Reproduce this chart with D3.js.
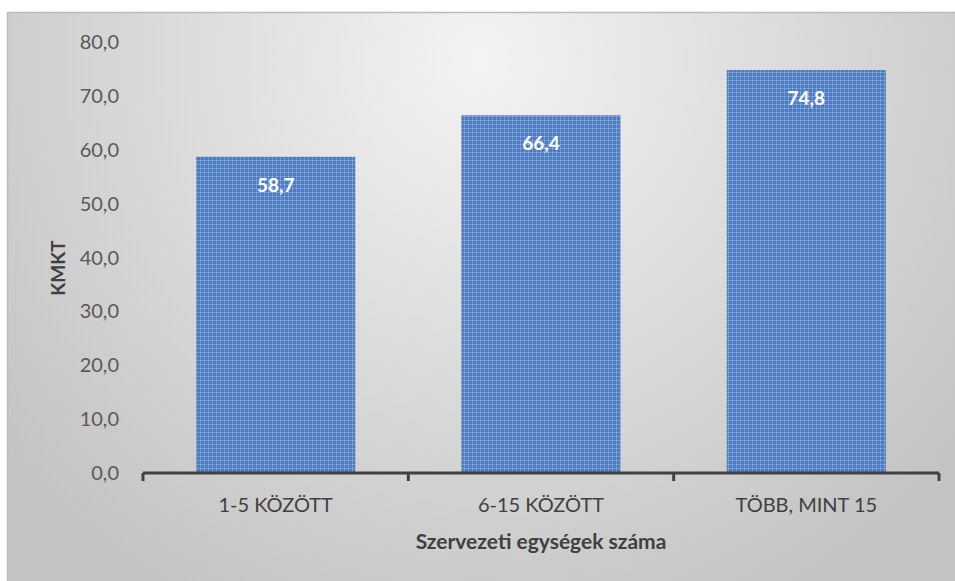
<!doctype html>
<html>
<head>
<meta charset="utf-8">
<script src="https://cdnjs.cloudflare.com/ajax/libs/d3/7.8.5/d3.min.js"></script>
<style>
  body { margin: 0; background: #fff; }
  svg { display: block; font-family: Lato, "Open Sans", sans-serif; }
</style>
</head>
<body>
<svg id="chart" width="955" height="581"></svg>
<script>
// data
var categories = ["1-5 KÖZÖTT", "6-15 KÖZÖTT", "TÖBB, MINT 15"];
var values = [58.7, 66.4, 74.8];
var yTicks = [0, 10, 20, 30, 40, 50, 60, 70, 80];
var yTitle = "KMKT";
var xTitle = "Szervezeti egységek száma";

var svg = d3.select("#chart");
var fmt = d => d.toFixed(1).replace(".", ",");

var defs = svg.append("defs");
var bg = defs.append("radialGradient").attr("id", "bg")
  .attr("gradientUnits", "userSpaceOnUse")
  .attr("cx", 480).attr("cy", 60).attr("r", 620);
bg.append("stop").attr("offset", "0%").attr("stop-color", "#f3f3f3");
bg.append("stop").attr("offset", "100%").attr("stop-color", "#c3c3c3");

var pat = defs.append("pattern").attr("id", "barfill")
  .attr("patternUnits", "userSpaceOnUse").attr("width", 4).attr("height", 4);
pat.append("rect").attr("width", 4).attr("height", 4).attr("fill", "#4d7dc0");
pat.append("rect").attr("width", 4).attr("height", 1).attr("fill", "#6e95cf");
pat.append("rect").attr("width", 1).attr("height", 4).attr("fill", "#6e95cf");
pat.append("rect").attr("width", 1).attr("height", 1).attr("fill", "#9ab7e0");

// chart area background
svg.append("rect")
  .attr("x", 7.5).attr("y", 12.5).attr("width", 960).attr("height", 580)
  .attr("fill", "url(#bg)").attr("stroke", "#bcbcbc").attr("stroke-width", 1.5);

var x = d3.scaleBand().domain(categories).range([143, 939]).paddingInner(0.4).paddingOuter(0.2);
var y = d3.scaleLinear().domain([0, 80]).range([473, 42]);

// y tick labels
svg.append("g").selectAll("text").data(yTicks).join("text")
  .attr("x", 119).attr("y", d => y(d) + 7)
  .attr("text-anchor", "end")
  .attr("font-size", 20).attr("fill", "#595959")
  .text(fmt);

// bars
svg.append("g").selectAll("rect").data(values).join("rect")
  .attr("x", (d, i) => x(categories[i]))
  .attr("y", d => y(d))
  .attr("width", x.bandwidth())
  .attr("height", d => y(0) - y(d))
  .attr("fill", "url(#barfill)");

// value labels
svg.append("g").selectAll("text").data(values).join("text")
  .attr("x", (d, i) => x(categories[i]) + x.bandwidth() / 2)
  .attr("y", d => y(d) + 35)
  .attr("text-anchor", "middle")
  .attr("font-size", 19).attr("font-weight", "bold").attr("fill", "#ffffff")
  .text(fmt);

// x axis line and ticks
var step = (939 - 143) / categories.length;
var tickXs = d3.range(categories.length + 1).map(i => 143 + i * step);
svg.append("line")
  .attr("x1", 143).attr("x2", 939).attr("y1", y(0)).attr("y2", y(0))
  .attr("stroke", "#404040").attr("stroke-width", 3);
svg.append("g").selectAll("line").data(tickXs).join("line")
  .attr("x1", d => d).attr("x2", d => d)
  .attr("y1", y(0)).attr("y2", y(0) + 8)
  .attr("stroke", "#404040").attr("stroke-width", 3);

// category labels
svg.append("g").selectAll("text").data(categories).join("text")
  .attr("x", d => x(d) + x.bandwidth() / 2)
  .attr("y", 512)
  .attr("text-anchor", "middle")
  .attr("font-size", 20).attr("fill", "#404040")
  .text(d => d);

// axis titles
svg.append("text")
  .attr("x", 541).attr("y", 549)
  .attr("text-anchor", "middle")
  .attr("font-size", 21).attr("font-weight", "bold").attr("fill", "#404040")
  .text(xTitle);

svg.append("text")
  .attr("transform", "translate(65,268) rotate(-90)")
  .attr("text-anchor", "middle")
  .attr("font-size", 19).attr("font-weight", "bold").attr("fill", "#404040")
  .text(yTitle);
</script>
</body>
</html>
